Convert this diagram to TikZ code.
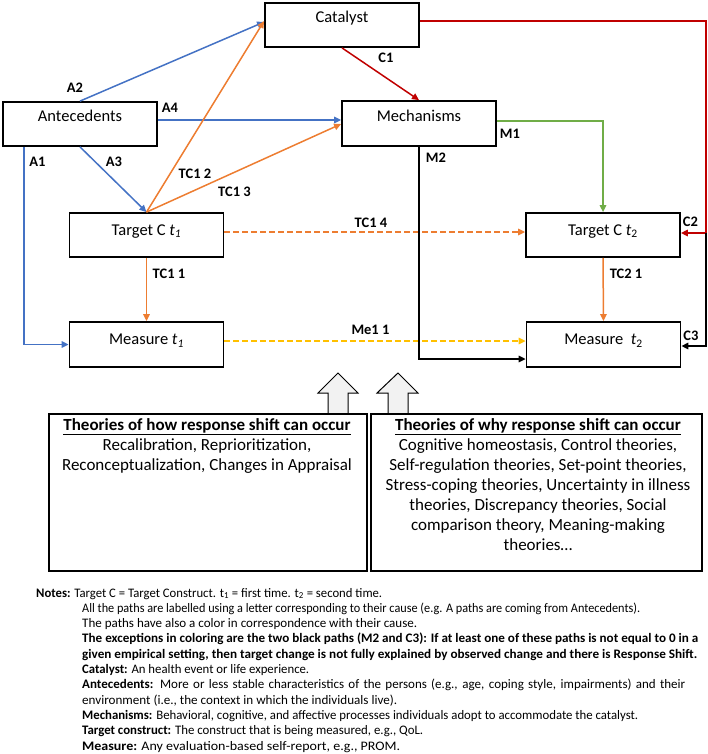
\documentclass[tikz,border=0pt]{standalone}
\usepackage{fontspec}
\setmainfont{Carlito}
\newfontfamily\notesfont{Carlito}
\usetikzlibrary{arrows.meta}
\definecolor{oblue}{HTML}{4472C4}
\definecolor{oorange}{HTML}{ED7D31}
\definecolor{ored}{HTML}{C00000}
\definecolor{ogreen}{HTML}{70AD47}
\definecolor{oyellow}{HTML}{FFC000}
\definecolor{hollowgray}{HTML}{F2F2F2}
\newcommand\noteline[2]{\resizebox{#1}{\height}{#2}}
\begin{document}
\begin{tikzpicture}[x=1pt, y=-1pt,
  box/.style={draw, line width=1.8pt, minimum width=154pt, minimum height=44pt, inner sep=0pt, font=\fontsize{16.5}{20}\selectfont, text height=11pt, text depth=#1},
  box/.default=11pt,
  lab/.style={font=\bfseries\fontsize{14.5}{16}\selectfont, inner sep=0pt},
  conn/.style={line width=1.5pt, -{Triangle[length=7pt,width=6.5pt]}},
  dashline/.style={conn, dash pattern=on 6pt off 3pt},
  hollowarrow/.style={draw=black, line width=1pt, fill=hollowgray},
  tbox/.style={draw, line width=1.8pt, minimum height=157pt, inner sep=0pt},
  ttext/.style={anchor=north, align=center, inner sep=0pt, font=\fontsize{17}{20}\selectfont},
  note/.style={anchor=base west, inner sep=0pt, font=\notesfont\fontsize{13}{15}\selectfont}
]
\useasboundingbox (0,0) rectangle (708,754);

% boxes
\node[box=15pt] (cat) at (342,25) {Catalyst};
\node[box=15pt] (ant) at (80,124) {Antecedents};
\node[box=15pt, minimum height=45pt] (mech) at (419,123.5) {Mechanisms};
\node[box] (tc1) at (146.5,235) {Target C \textit{t}\textsubscript{\textit{1}}};
\node[box] (tc2) at (603,235) {Target C \textit{t}\textsubscript{2}};
\node[box, minimum height=45pt] (me1) at (146.5,344.5) {Measure \textit{t}\textsubscript{\textit{1}}};
\node[box, minimum height=45pt] (me2) at (603.5,344.5) {Measure\ \ \textit{t}\textsubscript{2}};

% connectors
\draw[conn, oblue] (ant.north) -- ([yshift=3pt]cat.west);
\draw[conn, oblue] ([yshift=4pt]ant.east) -- ([yshift=4pt]ant.east -| mech.west);
\draw[conn, oblue] ([xshift=22pt]ant.south west) |- (me1.west);
\draw[conn, oblue] (ant.south) -- (tc1.north);
\draw[conn, oorange] (tc1.north) -- ([yshift=4pt]cat.west);
\draw[conn, oorange] (tc1.north) -- ([yshift=-0.5pt]mech.west);
\draw[dashline, oorange] ([yshift=3pt]tc1.east) -- ([yshift=3pt]tc1.east -| tc2.west);
\draw[conn, oorange] (tc1.south) -- (me1.north);
\draw[conn, oorange] (tc2.south) -- (me2.north);
\draw[dashline, oyellow] ([yshift=3.5pt]me1.east) -- ([yshift=3.5pt]me1.east -| me2.west);
\draw[conn, ored] (cat.south) -- (mech.north);
\coordinate (rturn) at (706,233);
\draw[conn, ored] ([yshift=4pt]cat.east) -| (rturn) -- (rturn -| tc2.east);
\draw[conn, black] (rturn) |- ([yshift=-1.5pt]me2.east);
\draw[conn, ogreen] ([yshift=2.5pt]mech.east) -| (tc2.north);
\draw[conn, black] (mech.south) |- ([yshift=-14.5pt]me2.west);

% labels
\node[lab] (lA2) at (75,88) {A2};
\node[lab] (lA4) at (170,108) {A4};
\node[lab] (lA1) at (37.5,162) {A1};
\node[lab] (lA3) at (114,162) {A3};
\node[lab] (lTC12) at (195,174) {TC1 2};
\node[lab] (lTC13) at (234.5,192) {TC1 3};
\node[lab] (lTC14) at (371,223) {TC1 4};
\node[lab] (lC1) at (386,58) {C1};
\node[lab] (lC2) at (690.5,222) {C2};
\node[lab] (lM1) at (510,134) {M1};
\node[lab] (lM2) at (436,158) {M2};
\node[lab] (lTC11) at (169,274) {TC1 1};
\node[lab] (lTC21) at (626,274) {TC2 1};
\node[lab] (lMe11) at (370.5,330) {Me1 1};
\node[lab] (lC3) at (691,336) {C3};

% hollow arrows
\draw[hollowarrow] (328,414) -- (328,393) -- (318,393) -- (338,373) -- (358,393) -- (348,393) -- (348,414) -- cycle;
\draw[hollowarrow] (388,414) -- (388,393) -- (377,393) -- (398,373) -- (418,393) -- (408,393) -- (408,414) -- cycle;

% theory boxes
\node[tbox, minimum width=318pt] (how) at (208,492.5) {};
\node[tbox, minimum width=331pt] (why) at (536.5,492.5) {};
\node[ttext] (howtext) at (207,418) {\textbf{\underline{Theories of how response shift can occur}}\\Recalibration, Reprioritization,\\Reconceptualization, Changes in Appraisal};
\node[ttext] (whytext) at (538,418) {\textbf{\underline{Theories of why response shift can occur}}\\Cognitive homeostasis, Control theories,\\Self-regulation theories, Set-point theories,\\Stress-coping theories, Uncertainty in illness\\theories, Discrepancy theories, Social\\comparison theory, Meaning-making\\theories…};

% notes
\node[note] (n0) at (36,597) {\noteline{346pt}{\textbf{Notes:} Target C = Target Construct. t\textsubscript{1} = first time. t\textsubscript{2} = second time.}};
\node[note] (n1) at (82,612.3) {\noteline{558pt}{All the paths are labelled using a letter corresponding to their cause (e.g. A paths are coming from Antecedents).}};
\node[note] (n2) at (82,627.6) {\noteline{335pt}{The paths have also a color in correspondence with their cause.}};
\node[note] (n3) at (82,642.9) {\noteline{616pt}{\textbf{The exceptions in coloring are the two black paths (M2 and C3): If at least one of these paths is not equal to 0 in a}}};
\node[note] (n4) at (82,658.2) {\noteline{615pt}{\textbf{given empirical setting, then target change is not fully explained by observed change and there is Response Shift.}}};
\node[note] (n5) at (82,673.5) {\noteline{227pt}{\textbf{Catalyst:} An health event or life experience.}};
\node[note] (n6) at (82,688.8) {\makebox[603pt][s]{\textbf{Antecedents:} More or less stable characteristics of the persons (e.g., age, coping style, impairments) and their}};
\node[note] (n7) at (82,704.1) {\noteline{315pt}{environment (i.e., the context in which the individuals live).}};
\node[note] (n8) at (82,719.4) {\noteline{556pt}{\textbf{Mechanisms:} Behavioral, cognitive, and affective processes individuals adopt to accommodate the catalyst.}};
\node[note] (n9) at (82,734.7) {\noteline{341pt}{\textbf{Target construct:} The construct that is being measured, e.g., QoL.}};
\node[note] (n10) at (82,750) {\noteline{318pt}{\textbf{Measure:} Any evaluation-based self-report, e.g., PROM.}};
\end{tikzpicture}
\end{document}
